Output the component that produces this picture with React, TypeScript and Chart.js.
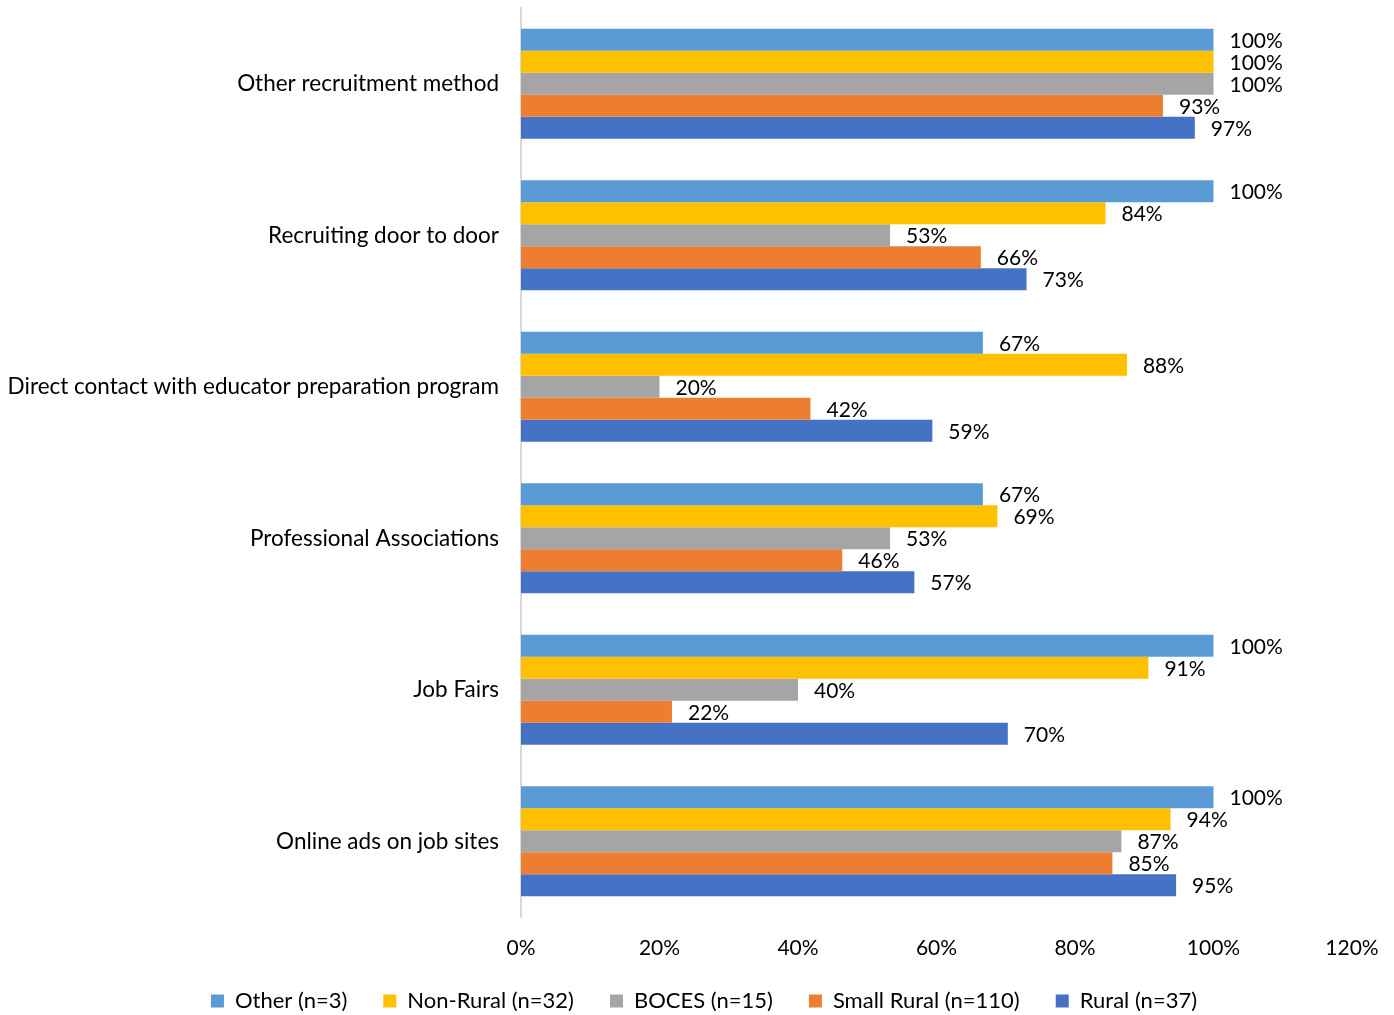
import React, { useEffect, useRef } from "react";
import { Chart, registerables } from "chart.js";

Chart.register(...registerables);

const categories = [
  "Other recruitment method",
  "Recruiting door to door",
  "Direct contact with educator preparation program",
  "Professional Associations",
  "Job Fairs",
  "Online ads on job sites",
];

const seriesNames = ["Other (n=3)", "Non-Rural (n=32)", "BOCES (n=15)", "Small Rural (n=110)", "Rural (n=37)"];
const seriesColors = ["#5B9BD5", "#FFC000", "#A5A5A5", "#ED7D31", "#4472C4"];

const otherValues = [100, 100, 66.7, 66.7, 100, 100];
const nonRuralValues = [100, 84.4, 87.5, 68.8, 90.6, 93.8];
const bocesValues = [100, 53.3, 20, 53.3, 40, 86.7];
const smallRuralValues = [92.7, 66.4, 41.8, 46.4, 21.8, 85.4];
const ruralValues = [97.3, 73.0, 59.4, 56.8, 70.3, 94.6];

const xTicks = [0, 20, 40, 60, 80, 100, 120];

const FONT = "Lato";
const CAT_SIZE = 22.5;
const TICK_SIZE = 21;
const LABEL_SIZE = 21;
const LEGEND_SIZE = 22;
const PAD_RIGHT = 42;
const LEGEND_SHIFT_X = 28;
const LEGEND_SHIFT_Y = 8;

const dataLabelPlugin = {
  id: "dataLabels",
  afterDatasetsDraw(chart: any) {
    const ctx = chart.ctx;
    ctx.save();
    ctx.font = `${LABEL_SIZE}px ${FONT}`;
    ctx.fillStyle = "#000000";
    ctx.textAlign = "left";
    ctx.textBaseline = "middle";
    chart.data.datasets.forEach((ds: any, di: number) => {
      const meta = chart.getDatasetMeta(di);
      if (meta.hidden) return;
      meta.data.forEach((el: any, i: number) => {
        const v = ds.data[i];
        ctx.fillText(`${Math.round(v)}%`, el.x + 16, el.y + 1);
      });
    });
    ctx.restore();
  },
};

const legendShiftPlugin = {
  id: "legendShift",
  afterLayout(chart: any) {
    const lg = chart.legend;
    if (lg) {
      lg.top -= LEGEND_SHIFT_Y;
      lg.left += LEGEND_SHIFT_X;
      lg.right += LEGEND_SHIFT_X;
    }
  },
};

export default function App() {
  const canvasRef = useRef<HTMLCanvasElement>(null);

  useEffect(() => {
    if (!canvasRef.current) return;
    const valueLists = [otherValues, nonRuralValues, bocesValues, smallRuralValues, ruralValues];
    const chart = new Chart(canvasRef.current, {
      type: "bar",
      data: {
        labels: categories,
        datasets: seriesNames.map((name, i) => ({
          label: name,
          data: valueLists[i],
          backgroundColor: seriesColors[i],
          borderWidth: 0,
          categoryPercentage: 0.726,
          barPercentage: 1,
        })),
      },
      plugins: [dataLabelPlugin, legendShiftPlugin],
      options: {
        indexAxis: "y",
        animation: false,
        responsive: true,
        maintainAspectRatio: false,
        layout: { padding: { top: 8, right: PAD_RIGHT, bottom: 0, left: 0 } },
        scales: {
          x: {
            min: 0,
            max: 120,
            afterBuildTicks(scale: any) {
              scale.ticks = xTicks.map((v) => ({ value: v }));
            },
            afterFit(scale: any) {
              scale.height = 45;
              scale.paddingLeft = 0;
              scale.paddingRight = 0;
            },
            grid: { display: false, drawTicks: false },
            border: { display: false },
            ticks: {
              padding: 19,
              color: "#000000",
              font: { family: FONT, size: TICK_SIZE },
              callback: (v: any) => `${v}%`,
              maxRotation: 0,
            },
          },
          y: {
            afterFit(scale: any) {
              scale.width = 521;
              scale.paddingTop = 0;
              scale.paddingBottom = 0;
            },
            grid: { display: false, drawTicks: false },
            border: { display: true, color: "#D9D9D9", width: 2 },
            ticks: {
              padding: 22,
              color: "#000000",
              font: { family: FONT, size: CAT_SIZE },
            },
          },
        },
        plugins: {
          legend: {
            position: "bottom",
            maxHeight: 53,
            labels: {
              boxWidth: 13,
              boxHeight: 13,
              padding: 36,
              color: "#000000",
              font: { family: FONT, size: LEGEND_SIZE },
            },
          },
          tooltip: { enabled: false },
        },
      } as any,
    });
    return () => chart.destroy();
  }, []);

  return (
    <div style={{ position: "absolute", left: 0, top: 0, width: 1394, height: 1015, background: "#fff" }}>
      <canvas ref={canvasRef} />
    </div>
  );
}
